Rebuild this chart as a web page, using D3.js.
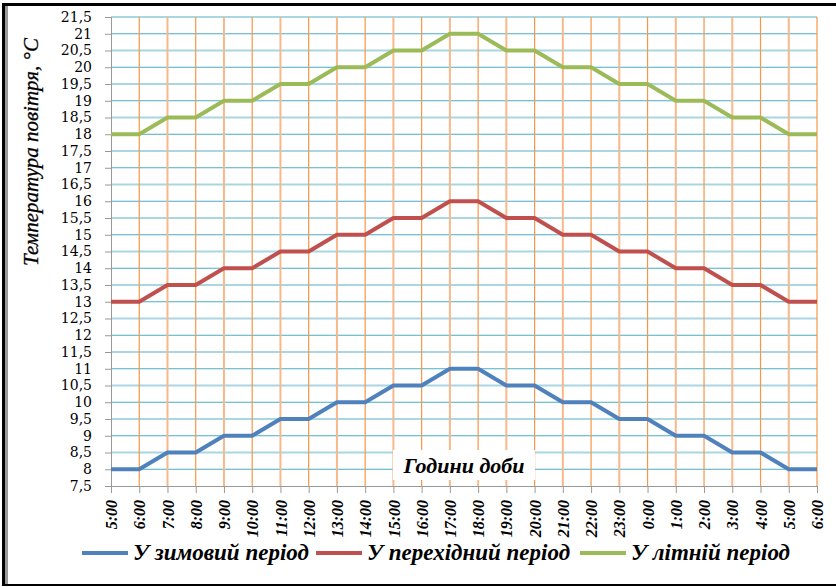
<!DOCTYPE html>
<html>
<head>
<meta charset="utf-8">
<script src="https://cdn.jsdelivr.net/npm/d3@7"></script>
<style>
  body { margin: 0; background: #fff; }
</style>
</head>
<body>
<div id="visualization"></div>
<script>
var hours = ["5:00","6:00","7:00","8:00","9:00","10:00","11:00","12:00","13:00","14:00",
             "15:00","16:00","17:00","18:00","19:00","20:00","21:00","22:00","23:00",
             "0:00","1:00","2:00","3:00","4:00","5:00","6:00"];
var winter = [8,8,8.5,8.5,9,9,9.5,9.5,10,10,10.5,10.5,11,11,10.5,10.5,10,10,9.5,9.5,9,9,8.5,8.5,8,8];
var transition = [13,13,13.5,13.5,14,14,14.5,14.5,15,15,15.5,15.5,16,16,15.5,15.5,15,15,14.5,14.5,14,14,13.5,13.5,13,13];
var summer = [18,18,18.5,18.5,19,19,19.5,19.5,20,20,20.5,20.5,21,21,20.5,20.5,20,20,19.5,19.5,19,19,18.5,18.5,18,18];
var seriesNames = ["У зимовий період", "У перехідний період", "У літній період"];
var yTicks = d3.range(7.5, 21.51, 0.5);

var SERIF = "'Liberation Serif', serif";
var WIDE_SERIF = "'DejaVu Serif', serif";

render();

function render() {
  var width = 836, height = 587;
  var margin = {top: 17, right: 19, bottom: 101, left: 111};
  var innerW = width - margin.left - margin.right,
      innerH = height - margin.top - margin.bottom;

  var svg = d3.select('#visualization').append('svg')
              .attr('width', width)
              .attr('height', height);

  // outer frame
  svg.append('rect').attr('x', 0).attr('y', 0).attr('width', width).attr('height', height).attr('fill', '#fff');
  svg.append('line').attr('x1', 2).attr('x2', width).attr('y1', 4.5).attr('y2', 4.5).attr('stroke', '#000').attr('stroke-width', 3);
  svg.append('line').attr('x1', 3.5).attr('x2', 3.5).attr('y1', 3).attr('y2', 586).attr('stroke', '#000').attr('stroke-width', 3);
  svg.append('line').attr('x1', 6.5).attr('x2', 6.5).attr('y1', 6).attr('y2', 584).attr('stroke', '#999').attr('stroke-width', 3);
  svg.append('line').attr('x1', 2).attr('x2', width).attr('y1', 585).attr('y2', 585).attr('stroke', '#000').attr('stroke-width', 2);

  var g = svg.append('g').attr('transform', 'translate(' + margin.left + ',' + margin.top + ')');

  var x = d3.scalePoint().domain(d3.range(hours.length)).range([0, innerW]);
  var y = d3.scaleLinear().domain([7.5, 21.5]).range([innerH, 0]);

  // horizontal grid
  g.selectAll('.hgrid').data(yTicks.slice(1)).enter().append('line')
   .attr('x1', 0).attr('x2', innerW)
   .attr('y1', d => y(d)).attr('y2', d => y(d))
   .attr('stroke', (d, i) => i % 2 ? '#aad6e3' : '#4bacc6')
   .attr('stroke-width', (d, i) => i % 2 ? 2 : 1);

  // vertical grid
  g.selectAll('.vgrid').data(d3.range(1, hours.length)).enter().append('line')
   .attr('x1', d => x(d)).attr('x2', d => x(d))
   .attr('y1', 0).attr('y2', innerH)
   .attr('stroke', (d, i) => i % 2 ? '#f7b88a' : '#f79646')
   .attr('stroke-width', (d, i) => i % 2 ? 2 : 1.2);

  // x-axis title inside the plot
  g.append('rect').attr('x', 282).attr('y', 433).attr('width', 142).attr('height', 30).attr('fill', '#fff');
  g.append('text').attr('x', 353).attr('y', 456)
   .attr('text-anchor', 'middle')
   .style('font-family', SERIF)
   .style('font-size', '22px').style('font-weight', 'bold').style('font-style', 'italic')
   .text('Години доби');

  // axes
  var yAxis = d3.axisLeft(y).tickValues(yTicks).tickSize(6).tickPadding(13)
                .tickFormat(d => String(d).replace('.', ','));
  var yg = g.append('g').call(yAxis);
  yg.select('.domain').attr('stroke', '#999');
  yg.selectAll('.tick line').attr('stroke', '#999');
  yg.selectAll('text').attr('fill', '#000')
    .style('font-family', WIDE_SERIF).style('font-size', '14px');

  var xAxis = d3.axisBottom(x).tickSize(7).tickFormat(i => hours[i]);
  var xg = g.append('g').attr('transform', 'translate(0,' + innerH + ')').call(xAxis);
  xg.select('.domain').attr('stroke', '#999');
  xg.selectAll('.tick line').attr('stroke', '#999');
  xg.selectAll('text')
    .attr('transform', 'rotate(-90)')
    .attr('x', -14).attr('y', 0).attr('dy', '0.35em')
    .attr('text-anchor', 'end')
    .attr('fill', '#000')
    .style('font-family', SERIF)
    .style('font-size', '16px').style('font-weight', 'bold').style('font-style', 'italic');

  // lines
  var colors = ['#4f81bd', '#c0504d', '#9bbb59'];
  var all = [winter, transition, summer];
  var line = d3.line().x((d, i) => x(i)).y(d => y(d));
  g.selectAll('.series').data(all).enter().append('path')
   .attr('d', line)
   .attr('fill', 'none')
   .attr('stroke', (d, i) => colors[i])
   .attr('stroke-width', 4)
   .attr('stroke-linejoin', 'round');

  // y title
  svg.append('text')
     .attr('transform', 'translate(38,152) rotate(-90)')
     .attr('text-anchor', 'middle')
     .style('font-family', SERIF)
     .style('font-size', '21px').style('font-style', 'italic')
     .style('stroke', '#000').style('stroke-width', 0.3)
     .text('Температура повітря, °С');

  // legend
  var legendX = [82, 316, 580];
  var leg = svg.selectAll('.legend').data(seriesNames).enter().append('g')
               .attr('transform', (d, i) => 'translate(' + legendX[i] + ',553)');
  leg.append('line').attr('x1', 0).attr('x2', 46).attr('y1', 0).attr('y2', 0)
     .attr('stroke', (d, i) => colors[i]).attr('stroke-width', 4);
  leg.append('text').attr('x', 51).attr('y', 7)
     .style('font-family', SERIF)
     .style('font-size', '23px').style('font-weight', 'bold').style('font-style', 'italic')
     .text(d => d);
}
</script>
</body>
</html>
